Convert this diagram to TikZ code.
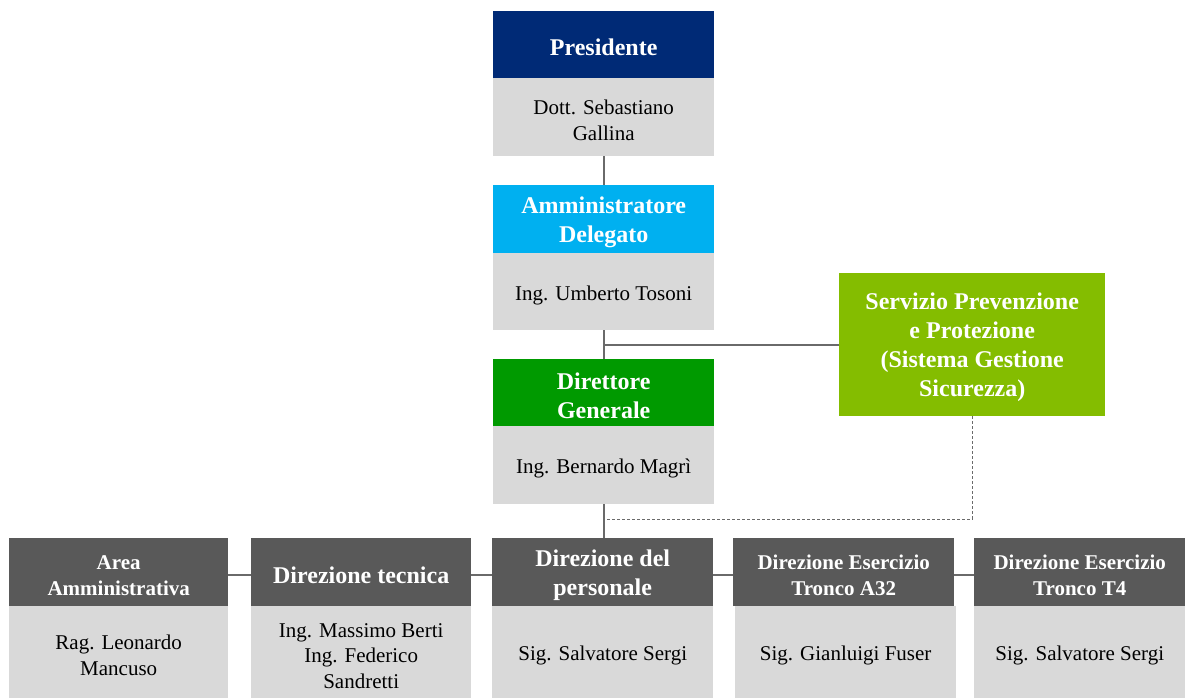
\documentclass[tikz,border=0pt]{standalone}
\usepackage{fontspec}
\setmainfont{Liberation Serif}
\definecolor{navy}{HTML}{002A76}
\definecolor{cyanh}{HTML}{00B0F0}
\definecolor{greenh}{HTML}{009A00}
\definecolor{limeh}{HTML}{84BD00}
\definecolor{darkh}{HTML}{595959}
\definecolor{bodyg}{HTML}{D9D9D9}
\definecolor{linec}{HTML}{6A6A6A}
\tikzset{
  panel/.style={fill=#1, inner sep=0pt, anchor=north west},
  htext/.style={text=white, font=\bfseries\fontsize{24}{29}\selectfont, align=center, inner sep=0pt},
  shtext/.style={htext, font=\bfseries\fontsize{21}{26}\selectfont},
  btext/.style={text=black, font=\fontsize{21}{26}\selectfont, align=center, inner sep=0pt},
  conn/.style={draw=linec, line width=2pt},
  dconn/.style={draw=linec, line width=1pt, dash pattern=on 3pt off 2pt}
}
\newcommand{\hdrsh}{-3pt}
\newcommand{\bodsh}{-3.5pt}
\begin{document}
\begin{tikzpicture}[x=1pt,y=-1pt]
\useasboundingbox (0,0) rectangle (1185,698);
% top column
\node[panel=navy, minimum width=221pt, minimum height=67pt] (presH) at (493,11) {};
\node[htext] (presHt) at ([yshift=\hdrsh]presH.center) {Presidente};
\node[panel=bodyg, minimum width=221pt, minimum height=78pt] (presB) at (493,78) {};
\node[btext] (presBt) at ([yshift=\bodsh]presB.center) {Dott. Sebastiano\\Gallina};
\node[panel=cyanh, minimum width=221pt, minimum height=68pt] (adH) at (493,185) {};
\node[htext] (adHt) at ([yshift=\hdrsh]adH.center) {Amministratore\\Delegato};
\node[panel=bodyg, minimum width=221pt, minimum height=77pt] (adB) at (493,253) {};
\node[btext] (adBt) at ([yshift=\bodsh]adB.center) {Ing. Umberto Tosoni};
\node[panel=greenh, minimum width=221pt, minimum height=67pt] (dgH) at (493,359) {};
\node[htext] (dgHt) at ([yshift=\hdrsh]dgH.center) {Direttore\\Generale};
\node[panel=bodyg, minimum width=221pt, minimum height=78pt] (dgB) at (493,426) {};
\node[btext] (dgBt) at ([yshift=\bodsh]dgB.center) {Ing. Bernardo Magrì};
\node[panel=limeh, minimum width=266pt, minimum height=143pt] (spp) at (839,273) {};
\node[htext] (sppt) at ([yshift=\hdrsh]spp.center) {Servizio Prevenzione\\e Protezione\\(Sistema Gestione\\Sicurezza)};
% bottom row
\node[panel=darkh, minimum width=219pt, minimum height=68pt] (areaH) at (9,538) {};
\node[shtext] (areaHt) at ([yshift=\hdrsh]areaH.center) {Area\\Amministrativa};
\node[panel=bodyg, minimum width=219pt, minimum height=92pt] (areaB) at (9,606) {};
\node[btext] (areaBt) at ([yshift=\bodsh]areaB.center) {Rag. Leonardo\\Mancuso};
\node[panel=darkh, minimum width=220pt, minimum height=68pt] (tecH) at (251,538) {};
\node[htext] (tecHt) at ([yshift=\hdrsh]tecH.center) {Direzione tecnica};
\node[panel=bodyg, minimum width=220pt, minimum height=92pt] (tecB) at (251,606) {};
\node[btext, font=\fontsize{21}{25.5}\selectfont] (tecBt) at ([yshift=\bodsh]tecB.center) {Ing. Massimo Berti\\Ing. Federico\\Sandretti};
\node[panel=darkh, minimum width=221pt, minimum height=68pt] (perH) at (492,538) {};
\node[htext] (perHt) at ([yshift=\hdrsh]perH.center) {Direzione del\\personale};
\node[panel=bodyg, minimum width=221pt, minimum height=92pt] (perB) at (492,606) {};
\node[btext] (perBt) at ([yshift=\bodsh]perB.center) {Sig. Salvatore Sergi};
\node[panel=darkh, minimum width=221pt, minimum height=68pt] (a32H) at (733,538) {};
\node[shtext] (a32Ht) at ([yshift=\hdrsh]a32H.center) {Direzione Esercizio\\Tronco A32};
\node[panel=bodyg, minimum width=221pt, minimum height=92pt] (a32B) at (735,606) {};
\node[btext] (a32Bt) at ([yshift=\bodsh]a32B.center) {Sig. Gianluigi Fuser};
\node[panel=darkh, minimum width=211pt, minimum height=68pt] (t4H) at (974,538) {};
\node[shtext] (t4Ht) at ([yshift=\hdrsh]t4H.center) {Direzione Esercizio\\Tronco T4};
\node[panel=bodyg, minimum width=211pt, minimum height=92pt] (t4B) at (974,606) {};
\node[btext] (t4Bt) at ([yshift=\bodsh]t4B.center) {Sig. Salvatore Sergi};
% connectors
\draw[conn] (presB.south) -- (adH.north);
\draw[conn] (adB.south) -- (dgH.north);
\draw[conn] (spp.west) -- (spp.west -| adB.south);
\draw[conn] (dgB.south) -- (dgB.south |- perH.north);
\coordinate (dj) at (605,519);
\draw[dconn] (spp.south) |- (dj);
\draw[conn] ([yshift=-3pt]areaH.east) -- ([yshift=-3pt]tecH.west);
\draw[conn] ([yshift=-3pt]tecH.east) -- ([yshift=-3pt]perH.west);
\draw[conn] ([yshift=-3pt]perH.east) -- ([yshift=-3pt]a32H.west);
\draw[conn] ([yshift=-3pt]a32H.east) -- ([yshift=-3pt]t4H.west);
\end{tikzpicture}
\end{document}
